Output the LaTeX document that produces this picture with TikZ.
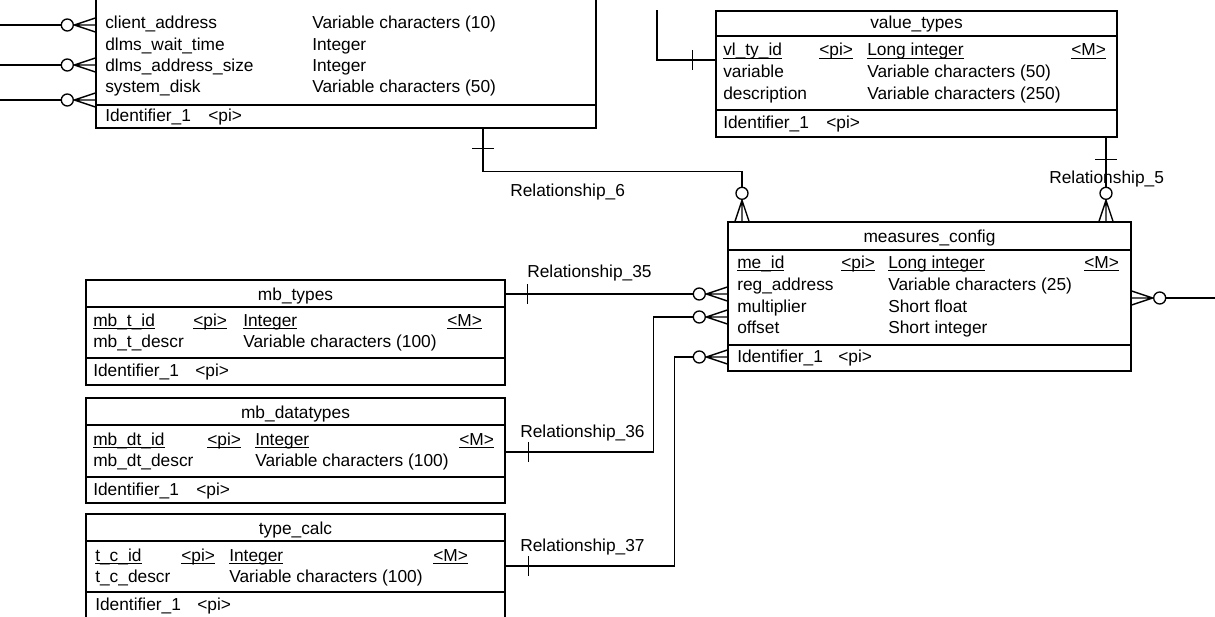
\documentclass[tikz,border=0pt]{standalone}
\usepackage{fontspec}
\setmainfont{Liberation Sans}
\usetikzlibrary{calc,fit}
\newcommand\pkul[1]{\setbox0\hbox{#1}\rlap{\rule[-2.4pt]{\wd0}{0.8pt}}\box0}
\tikzset{
  ln/.style={line width=1.05pt},
  tbl/.style={draw, line width=1.05pt, inner sep=0pt},
  txt/.style={inner sep=0pt, anchor=base west, font=\fontsize{13}{15}\selectfont},
  ttl/.style={inner sep=0pt, anchor=base, font=\fontsize{13}{15}\selectfont},
  lbl/.style={inner sep=0pt, anchor=base west, font=\fontsize{13}{15}\selectfont},
  circ/.style={draw, circle, line width=1pt, minimum size=9pt, inner sep=0pt, fill=white},
}
% crow's foot on a horizontal connector: #1 point on the box edge, #2 side (-1 left, 1 right)
\newcommand\hcrow[2]{%
  \draw[ln] ($(#1)+(#2*21,0)$) -- ($(#1)+(0,-7)$)
            ($(#1)+(#2*21,0)$) -- (#1)
            ($(#1)+(#2*21,0)$) -- ($(#1)+(0,7)$);}
% crow's foot on a vertical connector entering a box from above
\newcommand\vcrow[1]{%
  \draw[ln] ($(#1)+(0,-21)$) -- ($(#1)+(-7,0)$)
            ($(#1)+(0,-21)$) -- (#1)
            ($(#1)+(0,-21)$) -- ($(#1)+(7,0)$);}
\begin{document}
\begin{tikzpicture}[x=0.75pt,y=-0.75pt]
\clip (0,0) rectangle (1215,617);

% ---------------- corner points of the tables
\coordinate (tlA) at (96,-30);   \coordinate (tlB) at (596,128);
\coordinate (vtA) at (716,11);   \coordinate (vtB) at (1117,137);
\coordinate (mcA) at (728,222);  \coordinate (mcB) at (1131,371);
\coordinate (mbtA) at (86,280);  \coordinate (mbtB) at (505,385);
\coordinate (mbdA) at (86,398);  \coordinate (mbdB) at (505,503);
\coordinate (tcA) at (86,514);   \coordinate (tcB) at (505,622);

% ---------------- top-left table (cut off)
\node[tbl, fit=(tlA)(tlB)] (tl) {};
\draw[ln] (tl.west |- 0,105) -- (tl.east |- 0,105);
\node[txt] (tl1a) at (105,29) {client\_address};
\node[txt] (tl1b) at (312,29) {Variable characters (10)};
\node[txt] (tl2a) at (105,51) {dlms\_wait\_time};
\node[txt] (tl2b) at (312,51) {Integer};
\node[txt] (tl3a) at (105,72) {dlms\_address\_size};
\node[txt] (tl3b) at (312,72) {Integer};
\node[txt] (tl4a) at (105,93) {system\_disk};
\node[txt] (tl4b) at (312,93) {Variable characters (50)};
\node[txt] (tlid) at (105,122) {Identifier\_1};
\node[txt] (tlpi) at (208,122) {<pi>};

% ---------------- value_types
\node[tbl, fit=(vtA)(vtB)] (vt) {};
\draw[ln] (vt.west |- 0,36) -- (vt.east |- 0,36);
\draw[ln] (vt.west |- 0,110) -- (vt.east |- 0,110);
\node[ttl] (vtt) at (vt.north |- 0,29) {value\_types};
\node[txt] (vt1a) at (723,56) {\pkul{vl\_ty\_id}};
\node[txt] (vt1b) at (819,56) {\pkul{<pi>}};
\node[txt] (vt1c) at (867,56) {\pkul{Long integer}};
\node[txt] (vt1d) at (1071,56) {\pkul{<M>}};
\node[txt] (vt2a) at (723,78) {variable};
\node[txt] (vt2c) at (867,78) {Variable characters (50)};
\node[txt] (vt3a) at (723,100) {description};
\node[txt] (vt3c) at (867,100) {Variable characters (250)};
\node[txt] (vtid) at (723,129) {Identifier\_1};
\node[txt] (vtpi) at (826,129) {<pi>};

% ---------------- measures_config
\node[tbl, fit=(mcA)(mcB)] (mc) {};
\draw[ln] (mc.west |- 0,250) -- (mc.east |- 0,250);
\draw[ln] (mc.west |- 0,345) -- (mc.east |- 0,345);
\node[ttl] (mct) at (mc.north |- 0,242) {measures\_config};
\node[txt] (mc1a) at (737,268) {\pkul{me\_id}};
\node[txt] (mc1b) at (841,268) {\pkul{<pi>}};
\node[txt] (mc1c) at (888,268) {\pkul{Long integer}};
\node[txt] (mc1d) at (1084,268) {\pkul{<M>}};
\node[txt] (mc2a) at (737,290) {reg\_address};
\node[txt] (mc2c) at (888,290) {Variable characters (25)};
\node[txt] (mc3a) at (737,312) {multiplier};
\node[txt] (mc3c) at (888,312) {Short float};
\node[txt] (mc4a) at (737,333) {offset};
\node[txt] (mc4c) at (888,333) {Short integer};
\node[txt] (mcid) at (737,362) {Identifier\_1};
\node[txt] (mcpi) at (838,362) {<pi>};

% ---------------- mb_types
\node[tbl, fit=(mbtA)(mbtB)] (mbt) {};
\draw[ln] (mbt.west |- 0,307) -- (mbt.east |- 0,307);
\draw[ln] (mbt.west |- 0,358) -- (mbt.east |- 0,358);
\node[ttl] (mbtt) at (mbt.north |- 0,300) {mb\_types};
\node[txt] (mbt1a) at (93,326) {\pkul{mb\_t\_id}};
\node[txt] (mbt1b) at (193,326) {\pkul{<pi>}};
\node[txt] (mbt1c) at (243,326) {\pkul{Integer}};
\node[txt] (mbt1d) at (447,326) {\pkul{<M>}};
\node[txt] (mbt2a) at (93,347) {mb\_t\_descr};
\node[txt] (mbt2c) at (243,347) {Variable characters (100)};
\node[txt] (mbtid) at (93,376) {Identifier\_1};
\node[txt] (mbtpi) at (195,376) {<pi>};

% ---------------- mb_datatypes
\node[tbl, fit=(mbdA)(mbdB)] (mbd) {};
\draw[ln] (mbd.west |- 0,425) -- (mbd.east |- 0,425);
\draw[ln] (mbd.west |- 0,477) -- (mbd.east |- 0,477);
\node[ttl] (mbdt) at (mbd.north |- 0,418) {mb\_datatypes};
\node[txt] (mbd1a) at (93,445) {\pkul{mb\_dt\_id}};
\node[txt] (mbd1b) at (207,445) {\pkul{<pi>}};
\node[txt] (mbd1c) at (255,445) {\pkul{Integer}};
\node[txt] (mbd1d) at (459,445) {\pkul{<M>}};
\node[txt] (mbd2a) at (93,466) {mb\_dt\_descr};
\node[txt] (mbd2c) at (255,466) {Variable characters (100)};
\node[txt] (mbdid) at (93,495) {Identifier\_1};
\node[txt] (mbdpi) at (196,495) {<pi>};

% ---------------- type_calc
\node[tbl, fit=(tcA)(tcB)] (tc) {};
\draw[ln] (tc.west |- 0,541) -- (tc.east |- 0,541);
\draw[ln] (tc.west |- 0,592) -- (tc.east |- 0,592);
\node[ttl] (tct) at (tc.north |- 0,534) {type\_calc};
\node[txt] (tc1a) at (95,561) {\pkul{t\_c\_id}};
\node[txt] (tc1b) at (181,561) {\pkul{<pi>}};
\node[txt] (tc1c) at (229,561) {\pkul{Integer}};
\node[txt] (tc1d) at (433,561) {\pkul{<M>}};
\node[txt] (tc2a) at (95,582) {t\_c\_descr};
\node[txt] (tc2c) at (229,582) {Variable characters (100)};
\node[txt] (tcid) at (95,610) {Identifier\_1};
\node[txt] (tcpi) at (197,610) {<pi>};

% ---------------- connectors into the top-left table
\foreach \i/\yy in {1/25,2/65,3/100}{
  \coordinate (lend\i) at (0,\yy);
  \coordinate (tlw\i) at (tl.west |- lend\i);
  \node[circ] (ol\i) at ($(tlw\i)+(-28,0)$) {};
  \draw[ln] (lend\i) -- (ol\i);
  \hcrow{tlw\i}{-1}
}

% ---------------- line from above into value_types
\coordinate (topend) at (657,10);
\coordinate (vtw) at (vt.west |- 0,60);
\draw[ln] (topend) |- (vtw);
\draw[ln] ($(vtw)+(-23,-10)$) -- ($(vtw)+(-23,10)$);

% ---------------- Relationship_6
\coordinate (r6a) at (tl.south -| 483,0);
\coordinate (m6) at (mc.north -| 742,0);
\node[circ] (o6) at ($(m6)+(0,-28)$) {};
\draw[ln] (r6a) |- ($(o6)+(0,-22)$) -- (o6);
\draw[ln] ($(r6a)+(-11,20)$) -- ($(r6a)+(11,20)$);
\vcrow{m6}
\node[lbl] (l6) at (510,196) {Relationship\_6};

% ---------------- Relationship_5
\coordinate (r5a) at (vt.south -| 1106,0);
\coordinate (m5) at (mc.north -| 1106,0);
\node[circ] (o5) at ($(m5)+(0,-28)$) {};
\draw[ln] (r5a) -- (o5);
\draw[ln] ($(r5a)+(-11,22)$) -- ($(r5a)+(11,22)$);
\vcrow{m5}
\node[lbl] (l5) at (1049,184) {Relationship\_5};

% ---------------- Relationship_35
\coordinate (r35a) at (mbt.east |- 0,294);
\coordinate (m35) at (mc.west |- r35a);
\node[circ] (o35) at ($(m35)+(-28,0)$) {};
\draw[ln] (r35a) -- (o35);
\draw[ln] ($(r35a)+(22,-10)$) -- ($(r35a)+(22,10)$);
\hcrow{m35}{-1}
\node[lbl] (l35) at (527,277) {Relationship\_35};

% ---------------- Relationship_36
\coordinate (r36a) at (mbd.east |- 0,452);
\coordinate (m36) at (mc.west |- 0,317);
\node[circ] (o36) at ($(m36)+(-28,0)$) {};
\draw[ln] (r36a) -| ($(o36)+(-46,0)$) -- (o36);
\draw[ln] ($(r36a)+(23,-10)$) -- ($(r36a)+(23,10)$);
\hcrow{m36}{-1}
\node[lbl] (l36) at (520,437) {Relationship\_36};

% ---------------- Relationship_37
\coordinate (r37a) at (tc.east |- 0,566);
\coordinate (m37) at (mc.west |- 0,357);
\node[circ] (o37) at ($(m37)+(-28,0)$) {};
\draw[ln] (r37a) -| ($(o37)+(-25,0)$) -- (o37);
\draw[ln] ($(r37a)+(23,-10)$) -- ($(r37a)+(23,10)$);
\hcrow{m37}{-1}
\node[lbl] (l37) at (520,551) {Relationship\_37};

% ---------------- connector leaving measures_config to the right
\coordinate (m7) at (mc.east |- 0,298);
\coordinate (rend) at (1215,298);
\node[circ] (o7) at ($(m7)+(28,0)$) {};
\draw[ln] (o7) -- (rend);
\hcrow{m7}{1}
\end{tikzpicture}
\end{document}
